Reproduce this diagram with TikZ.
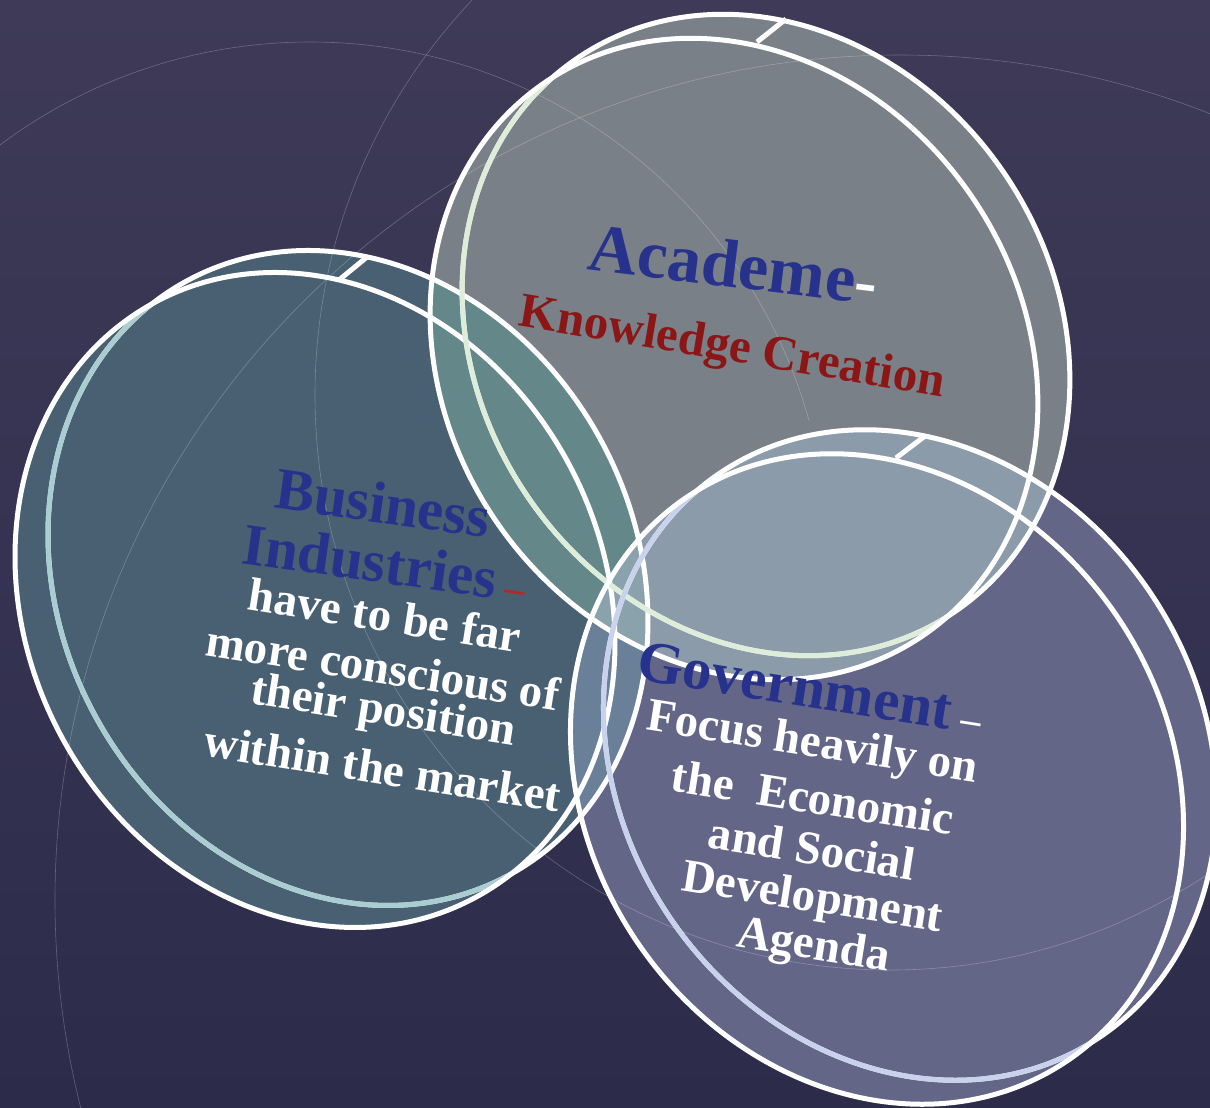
\documentclass[tikz,border=0pt]{standalone}
\usepackage{fontspec}
\setmainfont{Liberation Serif}
\definecolor{BgTop}{RGB}{62,58,88}
\definecolor{BgBot}{RGB}{44,44,74}
\definecolor{BusiClr}{RGB}{72,96,113}
\definecolor{AcadClr}{RGB}{122,128,136}
\definecolor{GovtClr}{RGB}{100,102,136}
\definecolor{AcBuClr}{RGB}{100,136,138}
\definecolor{AcGoClr}{RGB}{140,155,170}
\definecolor{BuGoClr}{RGB}{106,128,152}
\definecolor{AllClr}{RGB}{138,162,172}
\definecolor{BusiRim}{RGB}{170,205,210}
\definecolor{AcadRim}{RGB}{222,236,218}
\definecolor{GovtRim}{RGB}{200,210,236}
\definecolor{TitleClr}{RGB}{38,50,140}
\definecolor{KnowClr}{RGB}{140,22,22}
\definecolor{DashClr}{RGB}{180,40,40}

\newcommand{\BusiDisc}{(BuF) ellipse[x radius=338pt,y radius=288pt] (BuB) ellipse[x radius=338pt,y radius=288pt]}
\newcommand{\AcadDisc}{(AcF) ellipse[x radius=335pt,y radius=288pt] (AcB) ellipse[x radius=335pt,y radius=288pt]}
\newcommand{\GovtDisc}{(GoF) ellipse[x radius=340pt,y radius=290pt] (GoB) ellipse[x radius=340pt,y radius=290pt]}

\begin{document}
\begin{tikzpicture}[x=1pt,y=-1pt,
  rim/.style={draw=white,line width=5pt},
  faint/.style={draw=white,opacity=.25,line width=.6pt},
  headtext/.style={inner sep=0pt,text=TitleClr,font=\bfseries\fontsize{59}{59}\selectfont},
  bodytext/.style={inner sep=0pt,text=white,font=\bfseries\fontsize{47}{47}\selectfont}]
\useasboundingbox (0,0) rectangle (1210,1108);
\shade[top color=BgTop,bottom color=BgBot] (0,0) rectangle (1210,1108);
\clip (0,0) rectangle (1210,1108);

% front and back face of each disc
\coordinate (BuF) at (315,600);
\coordinate (BuB) at (348,578);
\coordinate (AcF) at (734,359);
\coordinate (AcB) at (766,335);
\coordinate (GoF) at (877,779);
\coordinate (GoB) at (910,755);

% bodies
\fill[BusiClr,rotate=-61.7] \BusiDisc;
\fill[AcadClr,rotate=-55.5] \AcadDisc;
\fill[GovtClr,rotate=-56] \GovtDisc;

\begin{scope}
\clip[rotate=-61.7] \BusiDisc;
\fill[BuGoClr,rotate=-56] \GovtDisc;
\end{scope}
\begin{scope}
\clip[rotate=-55.5] \AcadDisc;
\fill[AcBuClr,rotate=-61.7] \BusiDisc;
\fill[AcGoClr,rotate=-56] \GovtDisc;
\clip[rotate=-61.7] \BusiDisc;
\fill[AllClr,rotate=-56] \GovtDisc;
\end{scope}

% faint circles of the backdrop
\begin{scope}
\clip (0,0) rectangle (1210,420);
\draw[faint] (310,560) circle[radius=518pt];
\end{scope}
\draw[faint] (900,900) circle[radius=845pt];
\draw[faint] (890,395) circle[radius=575pt];

% rims: Business
\draw[rim,rotate=-61.7] (BuB) ellipse[x radius=338pt,y radius=288pt];
\begin{scope}
\clip[rotate=-61.7] (BuF) ellipse[x radius=338pt,y radius=288pt];
\draw[rim,draw=BusiRim,rotate=-61.7] (BuB) ellipse[x radius=338pt,y radius=288pt];
\end{scope}
\draw[rim,rotate=-61.7] (BuF) ellipse[x radius=338pt,y radius=288pt];
\coordinate (BuT1) at (339,280);
\coordinate (BuT2) at (367,257);
\draw[rim] (BuT1) -- (BuT2);

% rims: Academe
\draw[rim,rotate=-55.5] (AcB) ellipse[x radius=335pt,y radius=288pt];
\begin{scope}
\clip[rotate=-55.5] (AcF) ellipse[x radius=335pt,y radius=288pt];
\draw[rim,draw=AcadRim,rotate=-55.5] (AcB) ellipse[x radius=335pt,y radius=288pt];
\end{scope}
\draw[rim,rotate=-55.5] (AcF) ellipse[x radius=335pt,y radius=288pt];
\coordinate (AcT1) at (757,42);
\coordinate (AcT2) at (786,19);
\draw[rim] (AcT1) -- (AcT2);

% rims: Government
\draw[rim,rotate=-56] (GoB) ellipse[x radius=340pt,y radius=290pt];
\begin{scope}
\clip[rotate=-56] (GoF) ellipse[x radius=340pt,y radius=290pt];
\draw[rim,draw=GovtRim,rotate=-56] (GoB) ellipse[x radius=340pt,y radius=290pt];
\end{scope}
\draw[rim,rotate=-56] (GoF) ellipse[x radius=340pt,y radius=290pt];
\coordinate (GoT1) at (896,458);
\coordinate (GoT2) at (925,436);
\draw[rim] (GoT1) -- (GoT2);

% texts
\node[headtext,font=\bfseries\fontsize{68}{68}\selectfont,rotate=-7] (acad) at (734,264) {Academe\textcolor{white}{-}};
\node[headtext,text=KnowClr,font=\bfseries\fontsize{49}{49}\selectfont,rotate=-9.5] (know) at (732,350) {Knowledge Creation};

\node[headtext,rotate=-8] (busi) at (383,503) {Business};
\node[headtext,rotate=-8] (indu) at (385,563) {Industries\textcolor{DashClr}{\fontsize{40}{40}\selectfont\ --}};
\node[bodytext,rotate=-9] (busi1) at (385,615) {have to be far};
\node[bodytext,rotate=-9] (busi2) at (383,667) {more conscious of};
\node[bodytext,rotate=-9] (busi3) at (383,713) {their position};
\node[bodytext,rotate=-9] (busi4) at (383,768) {within the market};

\node[headtext,rotate=-9] (govt) at (810,688) {Government\textcolor{white}{\fontsize{40}{40}\selectfont\ --}};
\node[bodytext,rotate=-9] (govt1) at (812,745) {Focus heavily on};
\node[bodytext,rotate=-9] (govt2) at (813,797) {the\ \ Economic};
\node[bodytext,rotate=-9] (govt3) at (812,848) {and Social};
\node[bodytext,rotate=-9] (govt4) at (812,900) {Development};
\node[bodytext,rotate=-9] (govt5) at (813,948) {Agenda};
\end{tikzpicture}
\end{document}
